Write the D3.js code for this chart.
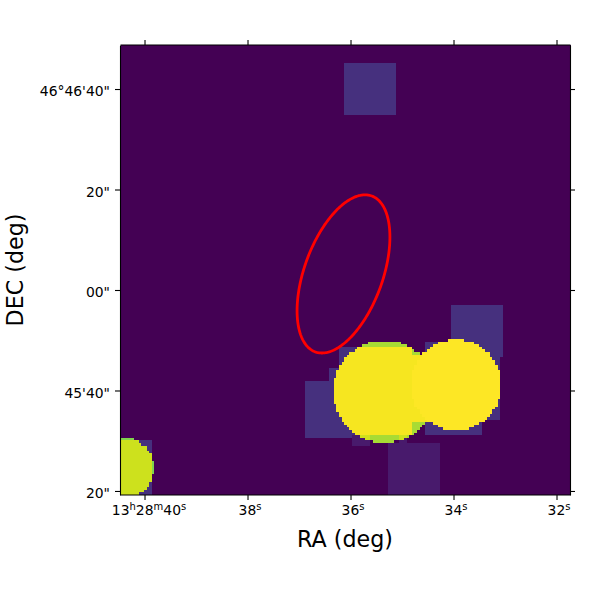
<!DOCTYPE html>
<html>
<head>
<meta charset="utf-8">
<script src="https://cdn.jsdelivr.net/npm/d3@7"></script>
<style>
html, body { margin: 0; padding: 0; background: #fff; }
text { font-family: "DejaVu Sans", sans-serif; fill: #000; }
</style>
</head>
<body>
<div id="chart"></div>
<script>
// RA in seconds past 13h28m, DEC in arcsec past 46d45m
const raTicks = [40, 38, 36, 34, 32];
const decTicks = [100, 80, 60, 40, 20];
const raLabels = [["13","h"],["28","m"],["40","s"]];
const decLabels = ["46°46'40\"", "20\"", "00\"", "45'40\"", "20\""];

// exposure footprints : ra1, ra2, dec1, dec2, level
const boxes = [
  [36.14, 35.13, 105.2, 94.8, 0.14],
  [35.28, 34.27, 29.6, 19, 0.07],
  [34.04, 33.03, 57.2, 46.5, 0.14],
  [36.88, 35.96, 41.8, 30.7, 0.14],
  [36.43, 34.8, 44.5, 31.1, 0.14],
  [36.21, 34.8, 48.6, 31.1, 0.14],
  [34.8, 34.56, 46.9, 33.5, 0.14],
  [35.98, 35.63, 31.1, 29.2, 0.07],
  [35.05, 34.91, 31.1, 29.2, 0.07],
  [34.56, 33.44, 49.5, 31.3, 0.14],
  [34.1, 33.1, 46.5, 34.1, 0.14],
  [40.5, 39.86, 30.1, 19, 0.14]
];
// bright sources : ra, dec, radius (arcsec), level
const discs = [
  [35.35, 39.8, 10.2, 0.87],
  [33.96, 41.1, 9.05, 1],
  [40.41, 24.6, 5.97, 0.81]
];
// red region : ra, dec, semi axes (arcsec), angle from east-west line
const region = [36.146, 63.2, 16.5, 7.8, 70.1];
const arcsecPerRaSec = 10.25;

const width = 600, height = 600;
const left = 120, right = 570, top_ = 45, bottom = 495;
const nCells = 173;

const x = d3.scaleLinear().domain([40.476, 31.738]).range([left + 0.5, right + 0.5]);
const y = d3.scaleLinear().domain([108.76, 19.2]).range([top_, bottom]);
const color = d3.scaleSequential(d3.interpolateViridis).domain([0, 1]);

const svg = d3.select("#chart").append("svg")
  .attr("width", width).attr("height", height)
  .style("display", "block");

// value of the map at one sky position
function level(ra, dec) {
  let base = 0;
  boxes.forEach(b => {
    if (ra <= b[0] && ra >= b[1] && dec <= b[2] && dec >= b[3]) base = Math.max(base, b[4]);
  });
  let val = base;
  discs.forEach(c => {
    let dx = (ra - c[0]) * arcsecPerRaSec, dy = dec - c[1];
    if (dx * dx + dy * dy <= c[2] * c[2]) val = Math.max(val, Math.min(1, c[3] + base * 0.82));
  });
  return val;
}

// raster, one rect per run of equal cells
const raEdges = d3.range(nCells + 1).map(i => x.invert(left + 0.5 + i * (right - left) / nCells));
const decEdges = d3.range(nCells + 1).map(i => y.invert(top_ + i * (bottom - top_) / nCells));
const runs = [];
for (let j = 0; j < nCells; j++) {
  let start = 0;
  let cur = level((raEdges[0] + raEdges[1]) / 2, (decEdges[j] + decEdges[j + 1]) / 2);
  for (let i = 1; i <= nCells; i++) {
    let v = i < nCells ? level((raEdges[i] + raEdges[i + 1]) / 2, (decEdges[j] + decEdges[j + 1]) / 2) : -1;
    if (v !== cur) {
      runs.push({ i0: start, i1: i, j: j, v: cur });
      start = i;
      cur = v;
    }
  }
}
svg.append("g").attr("shape-rendering", "crispEdges")
  .selectAll("rect").data(runs).enter().append("rect")
  .attr("x", d => x(raEdges[d.i0]))
  .attr("y", d => y(decEdges[d.j]))
  .attr("width", d => x(raEdges[d.i1]) - x(raEdges[d.i0]))
  .attr("height", d => y(decEdges[d.j + 1]) - y(decEdges[d.j]) + 0.3)
  .attr("fill", d => color(d.v));

// red ellipse
const theta = region[4] * Math.PI / 180;
const ellipseLine = d3.line()
  .x(t => x(region[0] - (region[2] * Math.cos(t) * Math.cos(theta) - region[3] * Math.sin(t) * Math.sin(theta)) / arcsecPerRaSec))
  .y(t => y(region[1] + region[2] * Math.cos(t) * Math.sin(theta) + region[3] * Math.sin(t) * Math.cos(theta)))
  .curve(d3.curveLinearClosed);
svg.append("path")
  .attr("d", ellipseLine(d3.range(0, 2 * Math.PI, 0.02)))
  .attr("fill", "none")
  .attr("stroke", "#ff0000")
  .attr("stroke-width", 2.8);

// axes
function style(g) {
  g.selectAll(".domain").attr("stroke", "#000").attr("stroke-width", 1.1);
  g.selectAll(".tick line").attr("stroke", "#000").attr("stroke-width", 1.1);
  g.selectAll("text").style("font-size", "13.9px");
}
const gb = svg.append("g").attr("transform", `translate(0,${bottom})`)
  .call(d3.axisBottom(x).offset(0).tickValues(raTicks).tickSize(5).tickSizeOuter(0).tickPadding(5).tickFormat("")).call(style);
svg.append("g").attr("transform", `translate(0,${top_})`)
  .call(d3.axisTop(x).offset(0).tickValues(raTicks).tickSize(5).tickSizeOuter(0).tickFormat("")).call(style);
const gl = svg.append("g").attr("transform", `translate(${left},0)`)
  .call(d3.axisLeft(y).tickValues(decTicks).tickSize(5).tickSizeOuter(0).tickPadding(5)
    .tickFormat((d, i) => decLabels[i])).call(style);
gl.selectAll(".tick text").attr("dy", "0.47em");
svg.append("g").attr("transform", `translate(${right},0)`)
  .call(d3.axisRight(y).tickValues(decTicks).tickSize(5).tickSizeOuter(0).tickFormat("")).call(style);

// sexagesimal labels with raised units
function sexa(sel, parts) {
  parts.forEach((p, k) => {
    sel.append("tspan").text(p[0]).attr("dy", k === 0 ? 0 : 5).style("font-size", "13.9px");
    sel.append("tspan").text(p[1]).attr("dy", -5).style("font-size", "10px");
  });
}
gb.selectAll(".tick").each(function (d, i) {
  const t = d3.select(this).select("text").attr("y", 20).attr("dy", 0).attr("dx", i === 0 ? 4 : 2);
  sexa(t, i === 0 ? raLabels : [[String(d).padStart(2, "0"), "s"]]);
});

svg.append("text").attr("x", 345).attr("y", 547).attr("text-anchor", "middle")
  .style("font-size", "22.2px").text("RA (deg)");
svg.append("text").attr("transform", "translate(23,270) rotate(-90)").attr("text-anchor", "middle")
  .style("font-size", "22.2px").text("DEC (deg)");
</script>
</body>
</html>
